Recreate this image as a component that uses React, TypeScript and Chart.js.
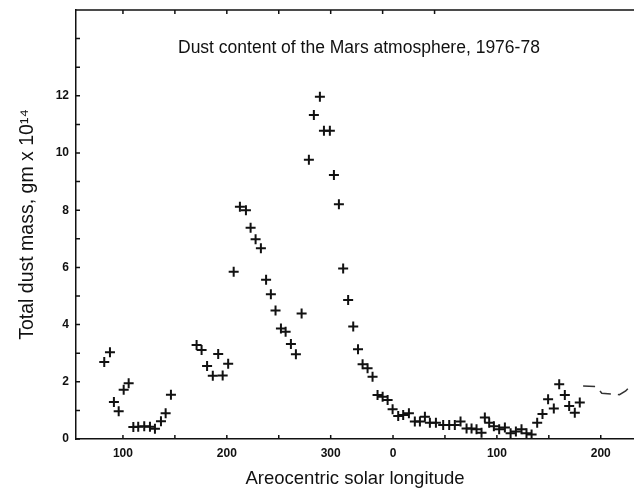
import React, { useEffect, useRef } from "react";
import { Chart, registerables } from "chart.js";

Chart.register(...registerables);

// Areocentric solar longitude, unwrapped (values >= 360 are the next Mars year)
const longitudes = [
  82, 87.5, 91.3, 95.9, 100.7, 105.5, 110, 114.7, 120.5, 126, 130.8, 136.6, 141.1, 146.2,
  170.9, 175.7, 181, 186.5, 191.7, 196, 201.3, 206.6, 212.6, 218.4, 222.9, 227.7, 232.8,
  237.8, 242.4, 246.9, 252.1, 256.6, 261.7, 266.5, 272, 279, 283.8, 289.6, 293.5, 299.2,
  303.1, 307.9, 312, 316.8, 321.7, 326.3, 330.7, 335.5, 340.3, 345.1, 350, 354.8, 359.6,
  365, 369.8, 375.3, 381, 385.9, 390.7, 395.5, 401.3, 408.3, 414.1, 419.5, 425, 430.8,
  435.6, 440.4, 445.2, 448.4, 452.6, 457.1, 462.2, 467.7, 473.2, 478.3, 483.7, 488.5,
  493.4, 498.8, 503.9, 509.3, 514.8, 520, 525.4, 529.6, 535, 539.8,
];
// Total dust mass, units of 10^14 g
const dustMass = [
  2.69, 3.03, 1.29, 0.97, 1.72, 1.95, 0.42, 0.43, 0.45, 0.43, 0.36, 0.62, 0.9, 1.55,
  3.29, 3.11, 2.55, 2.21, 2.97, 2.22, 2.63, 5.85, 8.12, 8.0, 7.39, 6.98, 6.67,
  5.57, 5.06, 4.49, 3.86, 3.75, 3.32, 2.96, 4.39, 9.76, 11.33, 11.97, 10.78, 10.78,
  9.23, 8.21, 5.96, 4.86, 3.93, 3.14, 2.61, 2.47, 2.18, 1.54, 1.48, 1.36, 1.04,
  0.8, 0.84, 0.9, 0.61, 0.61, 0.78, 0.57, 0.57, 0.49, 0.49, 0.49, 0.61, 0.37,
  0.37, 0.34, 0.22, 0.75, 0.57, 0.45, 0.34, 0.4, 0.2, 0.26, 0.34, 0.2,
  0.16, 0.57, 0.87, 1.39, 1.07, 1.91, 1.54, 1.15, 0.92, 1.28,
];
// faint dashed trace at the right edge
const traceX = [543, 556, 561, 578, 584, 590];
const traceY = [1.85, 1.83, 1.6, 1.55, 1.68, 1.92];

const xLabelTicks = [100, 200, 300, 360, 460, 560];
const xTickMarks = [100, 150, 200, 250, 300, 360, 410, 460, 510, 560];
const xTopTickMarks = [100, 150, 200, 250, 300, 350, 400];
const yLabelTicks = [0, 2, 4, 6, 8, 10, 12];
const yTickMarks = [0, 1, 2, 3, 4, 5, 6, 7, 8, 9, 10, 11, 12, 13, 14];

const chartTitle = "Dust content of the Mars atmosphere, 1976-78";
const xTitle = "Areocentric solar longitude";
const yTitle = "Total dust mass, gm x 10\u00B9\u2074";

const INK = "#111";
const FONT = "'Liberation Sans', Arial, Helvetica, sans-serif";

const axisDecor = {
  id: "axisDecor",
  afterDraw(chart: any) {
    const { ctx, chartArea, scales } = chart;
    const xs = scales.x;
    const ys = scales.y;
    ctx.save();
    ctx.strokeStyle = INK;
    ctx.lineWidth = 1.5;
    ctx.beginPath();
    // top frame line
    ctx.moveTo(chartArea.left, chartArea.top);
    ctx.lineTo(chartArea.right, chartArea.top);
    // left inward ticks
    yTickMarks.forEach((v) => {
      const y = ys.getPixelForValue(v);
      ctx.moveTo(chartArea.left, y);
      ctx.lineTo(chartArea.left + 4, y);
    });
    // bottom inward ticks
    xTickMarks.forEach((v) => {
      const x = xs.getPixelForValue(v);
      ctx.moveTo(x, chartArea.bottom);
      ctx.lineTo(x, chartArea.bottom - 4);
    });
    // top inward ticks
    xTopTickMarks.forEach((v) => {
      const x = xs.getPixelForValue(v);
      ctx.moveTo(x, chartArea.top);
      ctx.lineTo(x, chartArea.top + 4);
    });
    ctx.stroke();

    // in-plot title
    ctx.fillStyle = INK;
    ctx.font = `17.5px ${FONT}`;
    ctx.textAlign = "left";
    ctx.textBaseline = "alphabetic";
    ctx.fillText(chartTitle, 178, 52.7);
    ctx.restore();
  },
};

export default function App() {
  const canvasRef = useRef<HTMLCanvasElement | null>(null);

  useEffect(() => {
    const canvas = canvasRef.current;
    if (!canvas) return;
    const points = longitudes.map((x, i) => ({ x, y: dustMass[i] }));
    const trace = traceX.map((x, i) => ({ x, y: traceY[i] }));

    const chart = new Chart(canvas, {
      type: "scatter",
      data: {
        datasets: [
          {
            label: "Dust mass",
            data: points,
            pointStyle: "cross",
            pointRadius: 5,
            pointBorderWidth: 2,
            borderColor: INK,
            backgroundColor: INK,
          } as any,
          {
            label: "trace",
            data: trace,
            showLine: true,
            pointRadius: 0,
            borderColor: "#333",
            borderWidth: 1.5,
            borderDash: [12, 7],
          } as any,
        ],
      },
      options: {
        responsive: false,
        animation: false,
        layout: { autoPadding: false, padding: { left: 0, right: 0, top: 10, bottom: 0 } },
        plugins: {
          legend: { display: false },
          tooltip: { enabled: false },
          title: { display: false },
        },
        scales: {
          x: {
            type: "linear",
            min: 54.8,
            max: 592,
            afterFit: (s: any) => {
              s.height = 51;
              s.paddingLeft = 0;
              s.paddingRight = 0;
              s.paddingTop = 0;
              s.paddingBottom = 0;
            },
            afterBuildTicks: (s: any) => {
              s.ticks = xLabelTicks.map((v) => ({ value: v }));
            },
            grid: { display: false, drawTicks: false },
            border: { display: true, color: INK, width: 1.5 },
            ticks: {
              autoSkip: false,
              maxRotation: 0,
              padding: 7,
              color: INK,
              font: { family: FONT, size: 12, weight: "bold" },
              callback: (v: any) => String(Number(v) >= 360 ? Number(v) - 360 : Number(v)),
            },
            title: {
              display: true,
              text: xTitle,
              color: INK,
              font: { family: FONT, size: 18.5 },
              padding: { top: 0, bottom: 0.4 },
            },
          },
          y: {
            type: "linear",
            min: 0,
            max: 15,
            afterFit: (s: any) => {
              s.width = 76;
              s.paddingLeft = 0;
              s.paddingRight = 0;
              s.paddingTop = 0;
              s.paddingBottom = 0;
            },
            afterBuildTicks: (s: any) => {
              s.ticks = yLabelTicks.map((v) => ({ value: v }));
            },
            grid: { display: false, drawTicks: false },
            border: { display: true, color: INK, width: 1.5 },
            ticks: {
              autoSkip: false,
              padding: 7,
              color: INK,
              font: { family: FONT, size: 12, weight: "bold" },
              callback: (v: any) => String(v),
            },
            title: {
              display: true,
              text: yTitle,
              color: INK,
              font: { family: FONT, size: 19.5 },
              padding: { top: 15.8, bottom: 0 },
            },
          },
        },
      } as any,
      plugins: [axisDecor],
    });
    return () => chart.destroy();
  }, []);

  return (
    <div style={{ position: "fixed", left: 0, top: 0, width: 634, height: 490, background: "#fff" }}>
      <canvas ref={canvasRef} width={634} height={490} style={{ display: "block" }} />
    </div>
  );
}
